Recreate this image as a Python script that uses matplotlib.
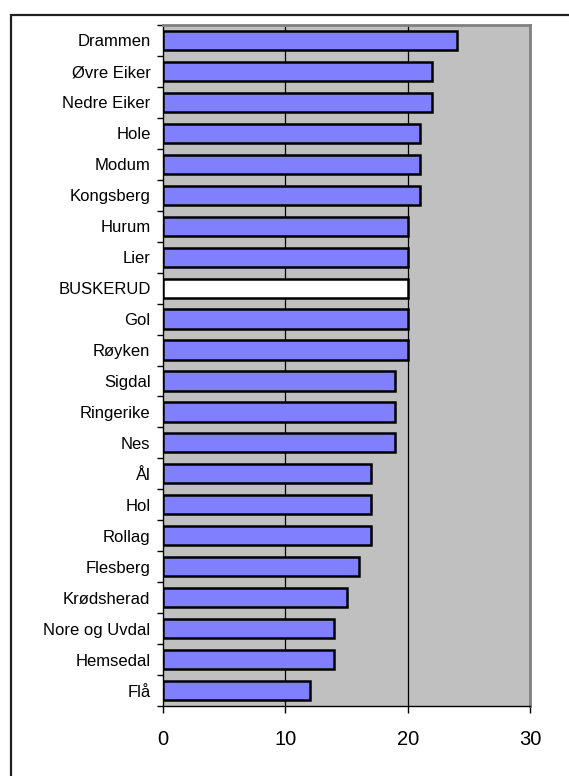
import matplotlib
matplotlib.use("Agg")
import matplotlib.pyplot as plt
from matplotlib.patches import Rectangle

plt.rcParams['font.family'] = ['Liberation Sans', 'DejaVu Sans']

categories = ["Drammen", "Øvre Eiker", "Nedre Eiker", "Hole", "Modum", "Kongsberg",
              "Hurum", "Lier", "BUSKERUD", "Gol", "Røyken", "Sigdal", "Ringerike",
              "Nes", "Ål", "Hol", "Rollag", "Flesberg", "Krødsherad",
              "Nore og Uvdal", "Hemsedal", "Flå"]
values = [24, 22, 22, 21, 21, 21, 20, 20, 20, 20, 20, 19, 19, 19, 17, 17, 17, 16, 15, 14, 14, 12]
highlight = "BUSKERUD"
xticks = [0, 10, 20, 30]

fig = plt.figure(figsize=(5.69, 7.76), dpi=100)
fig.patch.set_facecolor('white')
fig.patches.append(Rectangle((11/569, -0.1), 1.2, 1 - 15/776 + 0.1, transform=fig.transFigure,
                             fill=False, edgecolor='#202020', linewidth=1.6, zorder=0))

ax = fig.add_axes([163/569, 1 - 706/776, 367/569, 681/776])
ax.set_facecolor('#C0C0C0')

n = len(categories)
ypos = list(range(n))
colors = ['white' if c == highlight else '#8080FF' for c in categories]
ax.barh(ypos, values, height=0.62, color=colors, edgecolor='black', linewidth=1.8, zorder=3)

ax.set_xlim(0, 30)
ax.set_ylim(n - 0.5, -0.5)
ax.set_xticks(xticks)
ax.set_xticklabels([str(t) for t in xticks], fontsize=14.5)
ax.set_yticks(ypos)
ax.set_yticklabels(categories, fontsize=12)
ax.tick_params(axis='y', length=0, pad=9)
ax.set_yticks([i - 0.5 for i in range(n + 1)], minor=True)
ax.tick_params(axis='y', which='minor', length=4, width=1, color='black')
ax.tick_params(axis='x', length=5, width=1, pad=12)

for t in xticks[1:-1]:
    ax.axvline(t, color='black', linewidth=0.9, zorder=1)

for side in ['top', 'right']:
    ax.spines[side].set_color('#808080')
    ax.spines[side].set_linewidth(2)
ax.spines['left'].set_color('black')
ax.spines['bottom'].set_color('black')
ax.spines['left'].set_linewidth(1)
ax.spines['bottom'].set_linewidth(1)

fig.savefig('out.png', dpi=100)
